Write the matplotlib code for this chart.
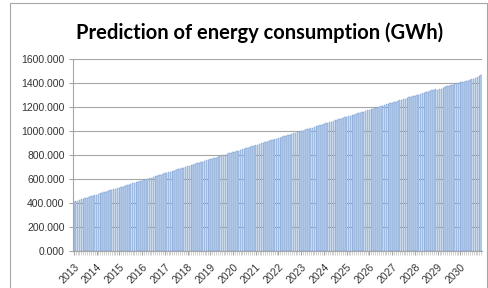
import matplotlib.pyplot as plt
from matplotlib.patches import Rectangle

# Monthly predicted energy consumption (GWh), one list per year
years = list(range(2013, 2031))
v2013 = [410, 414, 419, 424, 429, 434, 439, 444, 449, 454, 459, 464]
v2014 = [468, 473, 478, 483, 488, 493, 498, 503, 508, 512, 517, 522]
v2015 = [526, 531, 536, 541, 546, 551, 557, 562, 567, 572, 577, 582]
v2016 = [586, 590, 596, 601, 606, 611, 616, 621, 626, 631, 636, 641]
v2017 = [645, 650, 655, 660, 665, 670, 675, 680, 685, 690, 695, 700]
v2018 = [705, 709, 714, 719, 724, 729, 734, 739, 744, 749, 754, 759]
v2019 = [764, 768, 773, 778, 783, 788, 793, 798, 803, 808, 813, 818]
v2020 = [822, 827, 832, 837, 842, 847, 852, 857, 862, 867, 872, 877]
v2021 = [881, 886, 891, 896, 901, 906, 911, 916, 921, 926, 931, 936]
v2022 = [940, 945, 950, 955, 960, 965, 970, 975, 980, 985, 990, 995]
v2023 = [999, 1004, 1009, 1014, 1019, 1024, 1029, 1034, 1039, 1044, 1049, 1054]
v2024 = [1058, 1063, 1068, 1073, 1078, 1083, 1088, 1093, 1098, 1103, 1108, 1113]
v2025 = [1117, 1122, 1127, 1132, 1137, 1142, 1147, 1152, 1157, 1162, 1167, 1172]
v2026 = [1176, 1181, 1186, 1191, 1196, 1201, 1206, 1211, 1216, 1228, 1222, 1231]
v2027 = [1236, 1241, 1246, 1251, 1256, 1261, 1266, 1271, 1276, 1281, 1286, 1291]
v2028 = [1294, 1299, 1304, 1309, 1314, 1319, 1324, 1329, 1334, 1339, 1344, 1349]
v2029 = [1345, 1350, 1355, 1362, 1367, 1372, 1377, 1382, 1387, 1392, 1397, 1402]
v2030 = [1408, 1412, 1409, 1414, 1420, 1426, 1432, 1438, 1445, 1452, 1460, 1470]

values = (v2013 + v2014 + v2015 + v2016 + v2017 + v2018 + v2019 + v2020 + v2021
          + v2022 + v2023 + v2024 + v2025 + v2026 + v2027 + v2028 + v2029 + v2030)
x = list(range(len(values)))

fig = plt.figure(figsize=(4.89, 2.88), dpi=100)
ax = fig.add_axes([0.149, 0.1295, 0.837, 0.665])

ax.bar(x, values, width=0.8, color='#c3d5ee', edgecolor='#5b88c6', linewidth=0.25, zorder=2)

# gridlines and axes
ax.set_ylim(0, 1600)
ax.set_yticks(range(0, 1601, 200))
ax.set_yticklabels([f"{v:.3f}" for v in range(0, 1601, 200)], fontsize=7.5, color='#333333',
                   family='Liberation Sans')
ax.grid(axis='y', color='#a6a6a6', linewidth=0.8, zorder=0)
ax.set_xlim(-0.5, len(values) - 0.5)
ax.set_xticks(x, minor=True)
ax.set_xticks([12 * i for i in range(len(years))])
ax.set_xticklabels([str(y) for y in years], rotation=45, ha='right', va='top',
                   rotation_mode='anchor', fontsize=7.5, color='#333333', family='Liberation Sans')
ax.tick_params(axis='x', which='major', length=3, color='#a6a6a6', pad=5)
ax.tick_params(axis='x', which='minor', length=3, color='#bfbfbf', width=0.5)
ax.tick_params(axis='y', length=3, color='#a6a6a6', pad=3)
for s in ['top', 'right']:
    ax.spines[s].set_visible(False)
ax.spines['left'].set_color('#a6a6a6')
ax.spines['bottom'].set_color('#a6a6a6')

fig.text(0.53, 0.885, 'Prediction of energy consumption (GWh)', ha='center', va='center',
         fontsize=14.5, fontweight='bold', family='Lato')

# chart area border
fig.patches.append(Rectangle((10 / 489, -0.05), 477 / 489, 1.04, transform=fig.transFigure,
                             fill=False, edgecolor='#a6a6a6', linewidth=0.8))

plt.savefig('out.png', dpi=100)
